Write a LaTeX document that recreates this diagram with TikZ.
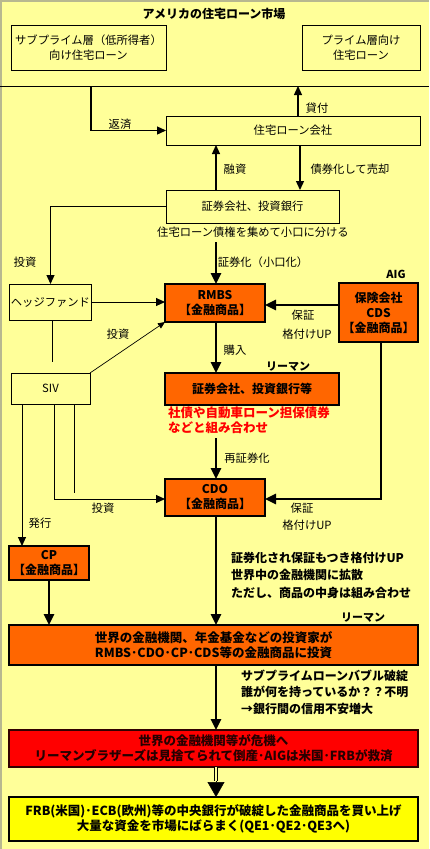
\documentclass[tikz,border=0pt]{standalone}
\usepackage{fontspec}
\setmainfont{Noto Sans CJK JP}
\usetikzlibrary{arrows.meta}
\definecolor{bg}{HTML}{FFFF99}
\definecolor{org}{HTML}{FF6600}
\definecolor{redbox}{HTML}{FF0000}
\definecolor{ybox}{HTML}{FFFF00}
\definecolor{edge}{HTML}{B8B890}
\begin{document}
\begin{tikzpicture}[x=1pt,y=-1pt,
  every node/.style={inner sep=1pt, outer sep=0pt},
  lbl/.style={font=\fontsize{11.3}{15}\selectfont},
  blbl/.style={font=\bfseries\fontsize{12.5}{15}\selectfont},
  wbox/.style={draw, line width=1pt, align=center, lbl},
  obox/.style={draw, line width=2pt, fill=org, align=center, font=\bfseries\fontsize{12}{15}\selectfont},
  conn/.style={line width=1.3pt},
  thinconn/.style={line width=1pt},
  main/.style={line width=2.5pt},
  tipA/.style={-{Triangle[width=10pt,length=11pt]}},
  tipB/.style={-{Triangle[width=8pt,length=9pt]}},
  tipC/.style={-{Triangle[width=6pt,length=7pt]}}
]
\fill[bg] (0,0) rectangle (429,849);
\useasboundingbox (0,0) rectangle (429,849);
\draw[edge, line width=2pt] (1,849) -- (1,1) -- (429,1);

% top market area
\node[minimum width=429, minimum height=86] (market) at (214.5,43) {};
\draw[line width=1pt] (market.south west) -- (market.south east);
\node[blbl, font=\bfseries\fontsize{12}{15}\selectfont] (title) at (214,14) {アメリカの住宅ローン市場};
\node[wbox, minimum width=155, minimum height=45] (sub) at (88.5,47.5) {サブプライム層（低所得者）\\向け住宅ローン};
\node[wbox, minimum width=118, minimum height=45] (prime) at (361,47.5) {プライム層向け\\住宅ローン};

% boxes
\node[wbox, minimum width=254, minimum height=29] (loanco) at (293,130.5) {住宅ローン会社};
\node[wbox, minimum width=173, minimum height=33] (sec) at (252.5,206.5) {証券会社、投資銀行};
\node[lbl] (note1) at (253,232) {住宅ローン債権を集めて小口に分ける};
\node[wbox, minimum width=79, minimum height=36] (hedge) at (50.5,302) {ヘッジファンド};
\node[obox, minimum width=100, minimum height=38] (rmbs) at (215,303) {RMBS\\【金融商品】};
\node[obox, minimum width=79, minimum height=59] (cds) at (378.5,312.5) {保険会社\\CDS\\【金融商品】};
\node[wbox, minimum width=79, minimum height=31] (siv) at (50.5,388.5) {SIV};
\node[obox, minimum width=174, minimum height=32] (ib2) at (252,389) {証券会社、投資銀行等};
\node[blbl, text=redbox, align=left, anchor=west] (redtxt) at (167,420) {社債や自動車ローン担保債券\\などと組み合わせ};
\node[obox, minimum width=100, minimum height=37] (cdo) at (215,497.5) {CDO\\【金融商品】};
\node[obox, minimum width=80, minimum height=34] (cp) at (49,563) {CP\\【金融商品】};
\node[obox, minimum width=409, minimum height=40, font=\bfseries\fontsize{12.5}{15}\selectfont] (big) at (213.5,645) {世界の金融機関、年金基金などの投資家が\\RMBS･CDO･CP･CDS等の金融商品に投資};
\node[draw=black!80!red, line width=2pt, fill=redbox, align=center, minimum width=409, minimum height=37, font=\bfseries\fontsize{12.5}{15}\selectfont, text=black!85!red] (red) at (213.5,748.5) {世界の金融機関等が危機へ\\リーマンブラザーズは見捨てられて倒産･AIGは米国･FRBが救済};
\node[draw, line width=2pt, fill=ybox, align=center, minimum width=409, minimum height=44, font=\bfseries\fontsize{12.5}{15}\selectfont] (final) at (213.5,819) {FRB(米国)･ECB(欧州)等の中央銀行が破綻した金融商品を買い上げ\\大量な資金を市場にばらまく(QE1･QE2･QE3へ)};

% labels
\node[lbl] (l1) at (120,124) {返済};
\node[lbl] (l2) at (317,108) {貸付};
\node[lbl] (l3) at (235,169) {融資};
\node[lbl] (l4) at (350,169) {債券化して売却};
\node[lbl] (l5) at (25,262) {投資};
\node[lbl] (l6) at (263,262) {証券化（小口化）};
\node[blbl, font=\bfseries\fontsize{11}{13}\selectfont] (aig) at (396,274) {AIG};
\node[lbl] (l7) at (303,315) {保証};
\node[lbl] (l8) at (307,334) {格付けUP};
\node[lbl] (l9) at (118,334) {投資};
\node[lbl] (l10) at (235,350) {購入};
\node[blbl, font=\bfseries\fontsize{11}{13}\selectfont] (lm1) at (288,367) {リーマン};
\node[lbl] (l11) at (247,458) {再証券化};
\node[lbl] (l12) at (302,508) {保証};
\node[lbl] (l13) at (307,525) {格付けUP};
\node[lbl] (l14) at (103,508) {投資};
\node[lbl] (l15) at (40,523) {発行};
\node[blbl, align=left, anchor=west, font=\bfseries\fontsize{12}{17.5}\selectfont] (txt1) at (230,575) {証券化され保証もつき格付けUP\\世界中の金融機関に拡散\\ただし、商品の中身は組み合わせ};
\node[blbl, font=\bfseries\fontsize{11}{13}\selectfont] (lm2) at (363,618) {リーマン};
\node[blbl, align=left, anchor=west, font=\bfseries\fontsize{12}{16.5}\selectfont] (txt2) at (240,692) {サブプライムローンバブル破綻\\誰が何を持っているか？？不明\\→銀行間の信用不安増大};

% coordinates
\coordinate (xm) at (216,0);
\coordinate (c1) at (91,86);
\coordinate (c2) at (298,86);
\coordinate (xr) at (300,0);
\coordinate (c3) at (216,242);
\coordinate (y305) at (0,305);
\coordinate (c4) at (52,362);
\coordinate (c5) at (216,438);
\coordinate (c6) at (381,499);
\coordinate (s1) at (22,0);
\coordinate (s2) at (54,499);
\coordinate (s3) at (74,493);
\coordinate (d1) at (216,781);

% connectors
\draw[conn, tipB] (c1) |- (loanco.west);
\draw[conn, tipB] (c2 |- loanco.north) -- (c2);
\draw[conn, tipB] (xm |- sec.north) -- (xm |- loanco.south);
\draw[conn, tipB] (xr |- loanco.south) -- (xr |- sec.north);
\draw[conn, tipB] (sec.west) -| (hedge.north);
\draw[main, tipA] (c3) -- (c3 |- rmbs.north);
\draw[thinconn, tipB] (hedge.east) -- (rmbs.west |- hedge.east);
\draw[main, tipA] (cds.west |- y305) -- (rmbs.east |- y305);
\draw[thinconn] (c4 |- hedge.south) -- (c4);
\draw[line width=0.7pt, tipC] (siv.north east) -- (rmbs.south west);
\draw[main, tipA] (xm |- rmbs.south) -- (xm |- ib2.north);
\draw[main, tipA] (c5) -- (c5 |- cdo.north);
\draw[main, tipA] (c6 |- cds.south) -- (c6) -- (cdo.east |- c6);
\draw[thinconn, tipB] (s1 |- siv.south) -- (s1 |- cp.north);
\draw[thinconn, tipB] (s2 |- siv.south) -- (s2) -- (cdo.west |- s2);
\draw[thinconn] (s3 |- siv.south) -- (s3);
\draw[main, tipA] (xm |- cdo.south) -- (xm |- big.north);
\draw[main, tipA] (cp.south) -- (cp.south |- big.north);
\draw[main, tipA] (xm |- big.south) -- (xm |- red.north);
\draw[double=bg, double distance=2.5pt, line width=0.8pt] (xm |- red.south) -- (d1);
\draw[line width=0.5pt, -{Triangle[width=17pt,length=15pt]}] (d1) -- (xm |- final.north);
\end{tikzpicture}
\end{document}
